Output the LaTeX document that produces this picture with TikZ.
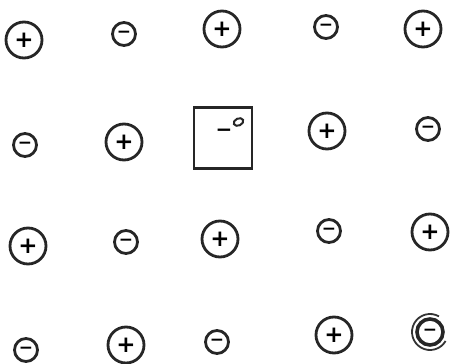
\documentclass[tikz,border=0pt]{standalone}
\usepackage{fontspec}
\setsansfont{DejaVu Sans}
\begin{document}
\begin{tikzpicture}[x=1pt,y=-1pt,
  ion/.style={circle,draw=black!85,line width=2.8pt,inner sep=0pt,font=\sffamily\bfseries},
  cation/.style={ion,minimum size=36pt,font=\sffamily\bfseries\fontsize{23}{23}\selectfont},
  anion/.style={ion,minimum size=23pt,font=\sffamily\bfseries\fontsize{17}{17}\selectfont},
  vacbox/.style={draw=black!85,line width=2.8pt,minimum width=58pt,minimum height=61pt,inner sep=0pt}]
\useasboundingbox (0,0) rectangle (451,364);
% row 1
\node[cation] (p11) at (24,40) {+};
\node[anion] (n12) at (124,34) {−};
\node[cation] (p13) at (222,29) {+};
\node[anion] (n14) at (326,27) {−};
\node[cation] (p15) at (423,29) {+};
% row 2
\node[anion] (n21) at (25,145) {−};
\node[cation] (p22) at (124,142) {+};
\node[vacbox] (vac) at (223,138) {};
\node[font=\sffamily\bfseries\fontsize{20}{20}\selectfont,inner sep=0pt] (e) at (224,133) {−};
\draw[black!85,line width=2pt,rotate around={25:(238.5,122)}] (238.5,122) ellipse [x radius=5pt,y radius=3.5pt];
\node[cation] (p24) at (327,131) {+};
\node[anion] (n25) at (428,129) {−};
% row 3
\node[cation] (p31) at (28,246) {+};
\node[anion] (n32) at (126,242) {−};
\node[cation] (p33) at (220,239) {+};
\node[anion] (n34) at (329,231) {−};
\node[cation] (p35) at (430,232) {+};
% row 4
\node[anion] (n41) at (26,350) {−};
\node[cation] (p42) at (126,345) {+};
\node[anion] (n43) at (217,342) {−};
\node[cation] (p44) at (334,335) {+};
\node[anion,line width=3.6pt,minimum size=26pt] (n45) at (430,332) {−};
\draw[black!80,line width=1.8pt] (n45.center) ++(60:18pt) arc[start angle=60,end angle=330,radius=18pt];
\end{tikzpicture}
\end{document}
